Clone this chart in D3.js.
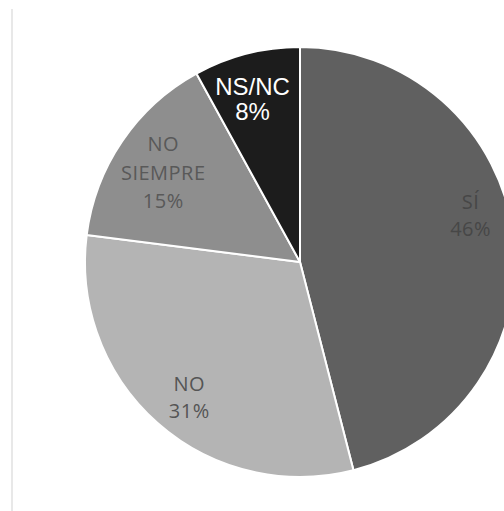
<!DOCTYPE html>
<html>
<head>
<meta charset="utf-8">
<script src="https://cdn.jsdelivr.net/npm/d3@7"></script>
<style>
  html, body { margin: 0; padding: 0; background: #ffffff; }
  svg { display: block; }
</style>
</head>
<body>
<svg id="chart" width="504" height="511"></svg>
<script>
// ---- data ----
const categories = ["SÍ", "NO", "NO SIEMPRE", "NS/NC"];
const values = [46, 31, 15, 8];
const labelLines = [["SÍ", "46%"], ["NO", "31%"], ["NO", "SIEMPRE", "15%"], ["NS/NC", "8%"]];

// ---- style / layout ----
const colors = ["#606060", "#b4b4b4", "#8e8e8e", "#1c1c1c"];
const textColors = ["#474747", "#555555", "#595959", "#ffffff"];
const fonts = ["Open Sans", "Open Sans", "Open Sans", "Liberation Sans"];
const fontSizes = [20, 20, 20, 24];
const letterSpacings = [0.5, 0.5, 0.5, 0];
const lineHeights = [27, 27, 28.5, 25];
const capHeights = [14, 14, 14.5, 17.5];
const labelOffsets = [[-3, -25], [5, 4], [8, 9], [-4, 6]];

const W = 504, H = 511;
const cx = 300, cy = 262, R = 215, labelR = 175;

const svg = d3.select("#chart");

// left border line
svg.append("line")
  .attr("x1", 12).attr("x2", 12)
  .attr("y1", 9).attr("y2", H)
  .attr("stroke", "#d9d9d9").attr("stroke-width", 1.2);

const data = categories.map((c, i) => ({ cat: c, value: values[i], i }));

const pie = d3.pie().sort(null).value(d => d.value).startAngle(0).endAngle(2 * Math.PI);
const arcs = pie(data);
const arc = d3.arc().innerRadius(0).outerRadius(R);
const labelArc = d3.arc().innerRadius(labelR).outerRadius(labelR);

const g = svg.append("g").attr("transform", `translate(${cx},${cy})`);

g.selectAll("path.slice")
  .data(arcs)
  .join("path")
  .attr("class", "slice")
  .attr("d", arc)
  .attr("fill", d => colors[d.data.i])
  .attr("stroke", "#ffffff")
  .attr("stroke-width", 2)
  .attr("stroke-linejoin", "round");

arcs.forEach(d => {
  const i = d.data.i;
  const [lx, ly] = labelArc.centroid(d);
  const mx = lx + labelOffsets[i][0];
  const my = ly + labelOffsets[i][1];
  const lines = labelLines[i];
  const n = lines.length;
  const b1 = my - ((n - 1) * lineHeights[i] - capHeights[i]) / 2;
  const t = g.append("text")
    .attr("text-anchor", "middle")
    .attr("font-family", fonts[i])
    .attr("font-size", fontSizes[i])
    .attr("letter-spacing", letterSpacings[i])
    .attr("fill", textColors[i]);
  lines.forEach((s, k) => {
    t.append("tspan")
      .attr("x", mx)
      .attr("y", b1 + k * lineHeights[i])
      .text(s);
  });
});
</script>
</body>
</html>
